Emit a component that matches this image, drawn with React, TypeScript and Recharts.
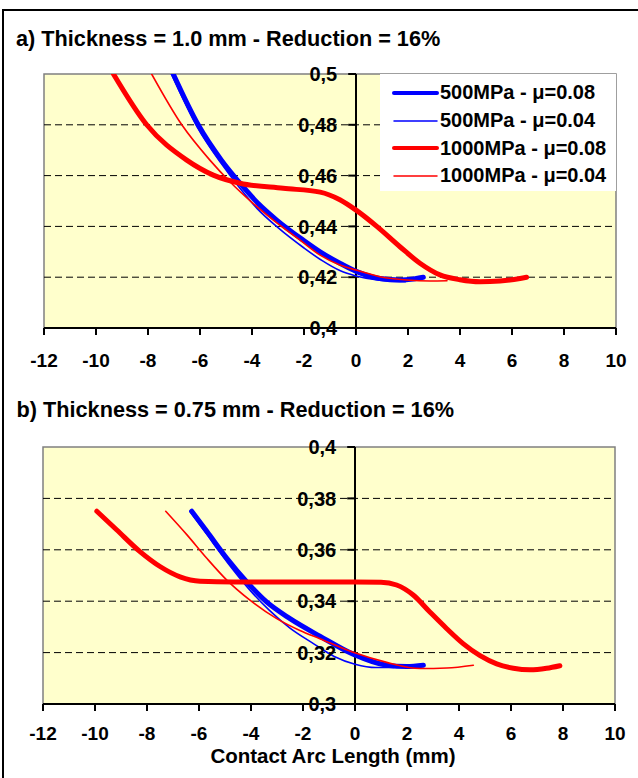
import React from 'react';
import {
  LineChart,
  Line,
  XAxis,
  YAxis,
  ReferenceLine,
  ReferenceArea,
  CartesianGrid,
  Legend,
} from 'recharts';

// ---------- shared ----------
const xTicks = [-12, -10, -8, -6, -4, -2, 0, 2, 4, 6, 8, 10];
const seriesNames = ['500MPa - μ=0.08', '500MPa - μ=0.04', '1000MPa - μ=0.08', '1000MPa - μ=0.04'];
const seriesColors = ['#0000FF', '#0000FF', '#FF0000', '#FF0000'];
const seriesWidths = [5, 1.6, 5, 1.6];

// ---------- panel a) thickness 1.0 mm ----------
const yTicksA = [0.4, 0.42, 0.44, 0.46, 0.48, 0.5];
const gridA = [0.42, 0.44, 0.46, 0.48];

const a500_008_x = [-7.03, -6.07, -5.17, -4.46, -3.76, -3.05, -2.03, -1.38, -0.62, 0.03, 0.92, 1.69, 2.2, 2.59];
const a500_008_y = [0.5, 0.48, 0.466, 0.457, 0.449, 0.4425, 0.4346, 0.43, 0.4255, 0.4222, 0.4195, 0.4189, 0.4193, 0.42];

const a500_004_x = [-7.1, -6.1, -5.2, -4.5, -3.8, -3.0, -2.0, -1.3, -0.6, 0, 0.9, 1.9];
const a500_004_y = [0.5, 0.479, 0.465, 0.4555, 0.447, 0.4395, 0.4315, 0.4265, 0.4225, 0.4205, 0.4188, 0.4182];

const a1000_008_x = [-9.33, -8.05, -6.51, -5.49, -4.46, -2.8, -1.38, -0.62, 0.03, 0.8, 1.69, 2.46, 3.23, 4.0, 4.77, 5.54, 6.31, 6.56];
const a1000_008_y = [0.5, 0.48, 0.4661, 0.4602, 0.457, 0.455, 0.4535, 0.4505, 0.4462, 0.44, 0.432, 0.4255, 0.4209, 0.419, 0.4182, 0.4185, 0.4195, 0.42];

const a1000_004_x = [-7.86, -6.7, -5.62, -4.85, -3.95, -3.18, -2.15, -1.38, -0.62, 0, 0.92, 1.95, 2.85, 3.5];
const a1000_004_y = [0.5, 0.48, 0.4661, 0.4576, 0.449, 0.4425, 0.4346, 0.4287, 0.4248, 0.4228, 0.4202, 0.4189, 0.4185, 0.4186];

// ---------- panel b) thickness 0.75 mm ----------
const yTicksB = [0.3, 0.32, 0.34, 0.36, 0.38, 0.4];
const gridB = [0.32, 0.34, 0.36, 0.38];

const b500_008_x = [-6.28, -5.7, -4.93, -4.17, -3.4, -2.5, -1.35, -0.07, 1.22, 1.99, 2.63];
const b500_008_y = [0.375, 0.3672, 0.3567, 0.3476, 0.3397, 0.3332, 0.3264, 0.3194, 0.3151, 0.3146, 0.3151];

const b500_004_x = [-6.35, -5.7, -4.9, -4.1, -3.3, -2.5, -1.6, -0.8, 0, 0.8, 1.5];
const b500_004_y = [0.375, 0.366, 0.355, 0.345, 0.3365, 0.3295, 0.3235, 0.3185, 0.3155, 0.3142, 0.3142];

const b1000_008_x = [-9.93, -9.17, -8.27, -7.5, -6.73, -5.96, -4.68, -2.0, 0, 1.0, 1.6, 2.24, 2.88, 3.53, 4.17, 4.81, 5.45, 6.09, 6.73, 7.37, 7.88];
const b1000_008_y = [0.375, 0.3678, 0.3593, 0.3535, 0.3495, 0.3478, 0.3475, 0.3475, 0.3475, 0.3474, 0.3463, 0.3424, 0.3358, 0.3293, 0.3234, 0.3188, 0.3156, 0.3139, 0.3133, 0.3139, 0.3149];

const b1000_004_x = [-7.28, -6.47, -5.7, -4.93, -4.04, -3.01, -2.12, -1.35, -0.07, 1.22, 2.5, 3.53, 4.55];
const b1000_004_y = [0.375, 0.3659, 0.3567, 0.3482, 0.3404, 0.3332, 0.3286, 0.3254, 0.3201, 0.3162, 0.3138, 0.314, 0.3151];

const zip = (xs: number[], ys: number[]) => xs.map((x, i) => ({ x, y: ys[i] }));

const seriesA = [
  zip(a500_008_x, a500_008_y),
  zip(a500_004_x, a500_004_y),
  zip(a1000_008_x, a1000_008_y),
  zip(a1000_004_x, a1000_004_y),
];
const seriesB = [
  zip(b500_008_x, b500_008_y),
  zip(b500_004_x, b500_004_y),
  zip(b1000_008_x, b1000_008_y),
  zip(b1000_004_x, b1000_004_y),
];

const FONT = "'Liberation Sans', Arial, sans-serif";
const fmt = (v: number) => String(v).replace('.', ',');

const LegendBox = () => (
  <div
    style={{
      width: 236,
      height: 117,
      background: '#fff',
      boxSizing: 'border-box',
      paddingTop: 5,
      fontFamily: FONT,
    }}
  >
    {seriesNames.map((n, i) => (
      <div key={n} style={{ display: 'flex', alignItems: 'center', height: 27.7 }}>
        <svg width={60} height={10} style={{ display: 'block' }}>
          <line
            x1={14}
            x2={57}
            y1={5}
            y2={5}
            stroke={seriesColors[i]}
            strokeWidth={seriesWidths[i] > 2 ? 4 : 1.5}
            strokeLinecap="round"
          />
        </svg>
        <span style={{ fontSize: 20, fontWeight: 700, color: '#000', whiteSpace: 'nowrap' }}>{n}</span>
      </div>
    ))}
  </div>
);

type PanelProps = {
  series: { x: number; y: number }[][];
  domain: [number, number];
  yTicks: number[];
  grid: number[];
  height: number;
  margin: { top: number; left: number; right: number; bottom: number };
  tickMargin: number;
  legend?: boolean;
};

const Panel = ({ series, domain, yTicks, grid, height, margin, tickMargin, legend }: PanelProps) => (
  <LineChart width={638} height={height} margin={margin}>
    <CartesianGrid fill="#FFFFCC" fillOpacity={1} horizontal={false} vertical={false} />
    <XAxis
      type="number"
      dataKey="x"
      domain={[-12, 10]}
      ticks={xTicks}
      interval={0}
      allowDataOverflow
      axisLine={{ stroke: '#000', strokeWidth: 2 }}
      tickLine={{ stroke: '#000', strokeWidth: 2 }}
      tickSize={7}
      tickMargin={tickMargin}
      height={40}
      tick={{ fill: '#000', fontSize: 19, fontWeight: 700, fontFamily: FONT }}
    />
    <YAxis type="number" domain={domain} hide width={0} allowDataOverflow />
    <ReferenceArea
      x1={-12}
      x2={10}
      y1={domain[0]}
      y2={domain[1]}
      fill="none"
      fillOpacity={0}
      stroke="#808080"
      strokeWidth={1.5}
    />
    {grid.map((g) => (
      <ReferenceLine key={'g' + g} y={g} stroke="#000" strokeWidth={1} strokeDasharray="7 4" />
    ))}
    <ReferenceLine x={0} stroke="#000" strokeWidth={2} />
    {yTicks.map((t) => (
      <ReferenceLine
        key={'t' + t}
        segment={[
          { x: -0.3, y: t },
          { x: 0, y: t },
        ]}
        stroke="#000"
        strokeWidth={2}
        label={{
          value: fmt(t),
          position: 'left',
          offset: 11,
          fill: '#000',
          fontSize: 20,
          fontWeight: 700,
          fontFamily: FONT,
        }}
      />
    ))}
    {series.map((pts, i) => (
      <Line
        key={seriesNames[i]}
        name={seriesNames[i]}
        data={pts}
        dataKey="y"
        type="monotone"
        stroke={seriesColors[i]}
        strokeWidth={seriesWidths[i]}
        strokeLinecap="round"
        strokeLinejoin="round"
        dot={false}
        activeDot={false}
        isAnimationActive={false}
      />
    ))}
    {legend && (
      <Legend
        layout="vertical"
        align="center"
        verticalAlign="middle"
        wrapperStyle={{ position: 'absolute', left: 380, top: 74, width: 236, height: 117 }}
        content={() => <LegendBox />}
      />
    )}
  </LineChart>
);

export default function App() {
  return (
    <div
      style={{
        position: 'absolute',
        left: 0,
        top: 0,
        width: 638,
        height: 778,
        overflow: 'hidden',
        background: '#fff',
        fontFamily: FONT,
      }}
    >
      <svg width={638} height={778} style={{ position: 'absolute', left: 0, top: 0 }}>
        <rect x={3} y={10} width={700} height={800} fill="none" stroke="#000" strokeWidth={2} />
        <text x={16} y={46} fontSize={21.7} fontWeight={700} fill="#000" fontFamily={FONT}>
          a) Thickness = 1.0 mm - Reduction = 16%
        </text>
        <text x={16.5} y={416.5} fontSize={21.7} fontWeight={700} fill="#000" fontFamily={FONT}>
          b) Thickness = 0.75 mm - Reduction = 16%
        </text>
        <text x={333} y={763} fontSize={20.5} fontWeight={700} fill="#000" fontFamily={FONT} textAnchor="middle">
          Contact Arc Length (mm)
        </text>
      </svg>
      <div style={{ position: 'absolute', left: 0, top: 0 }}>
        <Panel
          series={seriesA}
          domain={[0.4, 0.5]}
          yTicks={yTicksA}
          grid={gridA}
          height={380}
          margin={{ top: 74, left: 44, right: 22, bottom: 12 }}
          tickMargin={19}
          legend
        />
      </div>
      <div style={{ position: 'absolute', left: 0, top: 380 }}>
        <Panel
          series={seriesB}
          domain={[0.3, 0.4]}
          yTicks={yTicksB}
          grid={gridB}
          height={398}
          margin={{ top: 67, left: 43, right: 23, bottom: 34 }}
          tickMargin={16}
        />
      </div>
    </div>
  );
}
